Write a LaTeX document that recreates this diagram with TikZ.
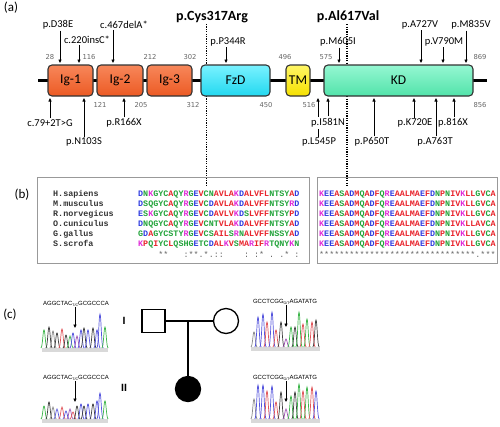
\documentclass[tikz,border=0pt]{standalone}
\usepackage{fontspec}
\setmainfont{Carlito}
\newfontfamily\numfont{DejaVu Sans}
\newfontfamily\alnfont{Liberation Mono}
\newfontfamily\chfont{Liberation Sans}
\usetikzlibrary{arrows.meta}
\definecolor{aared}{HTML}{E8232B}
\definecolor{aablue}{HTML}{2E3BE0}
\definecolor{aamag}{HTML}{E02CD8}
\definecolor{aagreen}{HTML}{22A33A}
\definecolor{chg}{HTML}{3DB54A}
\definecolor{chb}{HTML}{5555DD}
\definecolor{chr}{HTML}{E0555A}
\definecolor{chk}{HTML}{404040}
\definecolor{chp}{HTML}{9A4FB0}
\definecolor{chy}{HTML}{8A8A8A}
\definecolor{igtop}{HTML}{F7875A}
\definecolor{igbot}{HTML}{EC5A24}
\definecolor{fztop}{HTML}{7AF2FF}
\definecolor{fzbot}{HTML}{22D8F0}
\definecolor{tmtop}{HTML}{FFF666}
\definecolor{tmbot}{HTML}{F5E000}
\definecolor{kdtop}{HTML}{95F7D2}
\definecolor{kdbot}{HTML}{52E3AA}
\def\aaA{aared}\def\aaV{aared}\def\aaF{aared}\def\aaP{aared}\def\aaM{aared}\def\aaI{aared}\def\aaL{aared}\def\aaW{aared}
\def\aaD{aablue}\def\aaE{aablue}
\def\aaR{aamag}\def\aaK{aamag}
\def\aaS{aagreen}\def\aaT{aagreen}\def\aaY{aagreen}\def\aaH{aagreen}\def\aaC{aagreen}\def\aaN{aagreen}\def\aaG{aagreen}\def\aaQ{aagreen}
\def\seqcol#1{\seqcolx#1\relax}
\def\seqcolx#1{\ifx\relax#1\else\textcolor{\csname aa#1\endcsname}{#1}\expandafter\seqcolx\fi}
\newcommand\gp{\hphantom{*}}
\tikzset{
  dom/.style={draw=black!80, line width=1.1pt, rounded corners=4pt, minimum height=31pt, inner sep=0pt, font=\fontsize{13.5}{14}\selectfont},
  igbox/.style={dom, top color=igtop, bottom color=igbot},
  fzbox/.style={dom, top color=fztop, bottom color=fzbot},
  tmbox/.style={dom, top color=tmtop, bottom color=tmbot},
  kdbox/.style={dom, top color=kdtop, bottom color=kdbot},
  mut/.style={font=\fontsize{10.5}{12}\selectfont, inner sep=1pt},
  num/.style={font=\numfont\fontsize{6.8}{8}\selectfont, text=black!60, inner sep=0pt},
  arr/.style={-{Triangle[length=3.5pt,width=3pt]}, line width=0.75pt},
  dotline/.style={line width=1.9pt, dash pattern=on 1.2pt off 1.2pt},
  title/.style={font=\bfseries\fontsize{14}{15}\selectfont, inner sep=1pt},
  panel/.style={font=\fontsize{13}{14}\selectfont, inner sep=0pt},
  alnbox/.style={draw=black!40, line width=0.8pt},
  spname/.style={font=\alnfont\bfseries\fontsize{8.4}{9}\selectfont, text=black!80, anchor=base west, inner sep=0pt},
  seqtxt/.style={font=\alnfont\bfseries\fontsize{8.4}{9}\selectfont, anchor=base west, inner sep=0pt},
  constxt/.style={font=\alnfont\fontsize{8.4}{9}\selectfont, text=black!60, anchor=base west, inner sep=0pt},
  chlab/.style={font=\chfont\fontsize{6}{7}\selectfont, inner sep=0.5pt},
  ped/.style={draw=black, line width=1.3pt},
  gen/.style={font=\chfont\bfseries\fontsize{10.5}{12}\selectfont, inner sep=0pt},
  pk/.style={line width=0.7pt}
}
\begin{document}
\begin{tikzpicture}[x=1pt,y=-1pt]
\useasboundingbox (0,0) rectangle (500,426);
% ---------- panel (a)
\node[panel] (pa) at (11,8) {(a)};
\node[title] (cys) at (212,17) {p.Cys317Arg};
\node[title] (ala) at (348,17) {p.Al617Val};
\coordinate (cysx) at (206.5,187);
\coordinate (alax) at (346.7,187);
\draw[dotline] (cys.south -| cysx) -- (cysx);
\draw[dotline] (ala.south -| alax) -- (alax);
\coordinate (bbL) at (38,80.5);
\coordinate (bbR) at (487,80.5);
\draw[line width=2.6pt] (bbL) -- (bbR);
\node[igbox, minimum width=45pt] (ig1) at (70.5,80.5) {Ig-1};
\node[igbox, minimum width=46pt] (ig2) at (120,80.5) {Ig-2};
\node[igbox, minimum width=45pt] (ig3) at (169.5,80.5) {Ig-3};
\node[fzbox, minimum width=69pt] (fzd) at (235.5,80.5) {FzD};
\node[tmbox, minimum width=24pt] (tm) at (298,80.5) {TM};
\node[kdbox, minimum width=149pt] (kd) at (398.5,80.5) {KD};
% numbers
\node[num] (n28) at (50,57) {28};
\node[num] (n116) at (89,57) {116};
\node[num] (n212) at (150,57) {212};
\node[num] (n302) at (190,57) {302};
\node[num] (n496) at (285,57) {496};
\node[num] (n575) at (326,57) {575};
\node[num] (n869) at (480,57) {869};
\node[num] (n121) at (100,105) {121};
\node[num] (n205) at (141,105) {205};
\node[num] (n312) at (193,105) {312};
\node[num] (n450) at (266,105) {450};
\node[num] (n516) at (309,105) {516};
\node[num] (n856) at (480,105) {856};
% top mutations
\node[mut] (mD38E) at (58,25) {p.D38E};
\node[mut] (m220) at (87,40) {c.220insC*};
\node[mut] (m467) at (124,25) {c.467delA*};
\node[mut] (mP344R) at (228,42) {p.P344R};
\node[mut] (mM605I) at (338,42) {p.M605I};
\node[mut] (mA727V) at (420,25) {p.A727V};
\node[mut] (mV790M) at (444,42) {p.V790M};
\node[mut] (mM835V) at (471,25) {p.M835V};
\coordinate (tD38E) at (60,63);
\coordinate (t220) at (79,63);
\coordinate (t467) at (113,63);
\coordinate (tP344R) at (226,63);
\coordinate (tM605I) at (339,63);
\coordinate (tA727V) at (421,63);
\coordinate (tV790M) at (443,63);
\coordinate (tM835V) at (466,63);
\draw[arr] (mD38E.south -| tD38E) -- (tD38E);
\draw[arr] (m220.south -| t220) -- (t220);
\draw[arr] (m467.south -| t467) -- (t467);
\draw[arr] (mP344R.south -| tP344R) -- (tP344R);
\draw[arr] (mM605I.south -| tM605I) -- (tM605I);
\draw[arr] (mA727V.south -| tA727V) -- (tA727V);
\draw[arr] (mV790M.south -| tV790M) -- (tV790M);
\draw[arr] (mM835V.south -| tM835V) -- (tM835V);
% bottom mutations
\coordinate (b79) at (50,98);
\coordinate (bN103S) at (84,98);
\coordinate (bR166X) at (124,98);
\coordinate (bL545P) at (318,98);
\coordinate (bI581N) at (328,98);
\coordinate (bP650T) at (374,98);
\coordinate (bK720E) at (414,98);
\coordinate (bA763T) at (436,98);
\coordinate (b816X) at (454,98);
\node[mut] (m79) at (50,123) {c.79+2T>G};
\node[mut] (mN103S) at (84,142) {p.N103S};
\node[mut] (mR166X) at (124,123) {p.R166X};
\node[mut] (mL545P) at (319,142) {p.L545P};
\draw[arr] (mL545P.north -| bL545P) -- (bL545P);
\node[mut, fill=white, inner ysep=2pt] (mI581N) at (328,123) {p.I581N};
\node[mut] (mP650T) at (372,142) {p.P650T};
\node[mut] (mK720E) at (415,123) {p.K720E};
\node[mut] (mA763T) at (435,142) {p.A763T};
\node[mut] (m816X) at (453,123) {p.816X};
\draw[arr] (m79.north -| b79) -- (b79);
\draw[arr] (mN103S.north -| bN103S) -- (bN103S);
\draw[arr] (mR166X.north -| bR166X) -- (bR166X);
\draw[arr] (mI581N.north -| bI581N) -- (bI581N);
\draw[arr] (mP650T.north -| bP650T) -- (bP650T);
\draw[arr] (mK720E.north -| bK720E) -- (bK720E);
\draw[arr] (mA763T.north -| bA763T) -- (bA763T);
\draw[arr] (m816X.north -| b816X) -- (b816X);
% ---------- panel (b)
\node[panel] (pb) at (22,195) {(b)};
\draw[alnbox] (37,177) rectangle (309,263);
\draw[alnbox] (317,177) rectangle (497,263);
\node[spname] (s1) at (53,196) {H.sapiens};
\node[spname] (s2) at (53,206) {M.musculus};
\node[spname] (s3) at (53,216) {R.norvegicus};
\node[spname] (s4) at (53,226) {O.cuniculus};
\node[spname] (s5) at (53,236) {G.gallus};
\node[spname] (s6) at (53,246) {S.scrofa};
\node[seqtxt] (q1) at (138,196) {\seqcol{DNKGYCAQYRGEVCNAVLAKDALVFLNTSYAD}};
\node[seqtxt] (q2) at (138,206) {\seqcol{DSQGYCAQYRGEVCDAVLAKDALVFFNTSYRD}};
\node[seqtxt] (q3) at (138,216) {\seqcol{ESKGYCAQYRGEVCDAVLVKDSLVFFNTSYPD}};
\node[seqtxt] (q4) at (138,226) {\seqcol{DNQGYCAQYRGEVCNTVLAKDALVFFNTSYAD}};
\node[seqtxt] (q5) at (138,236) {\seqcol{GDAGYCSTYRGEVCSAILSRNALVFFNSSYAD}};
\node[seqtxt] (q6) at (138,246) {\seqcol{KPQIYCLQSHGETCDALKVSMARIFRTQNYKN}};
\node[constxt] (c1) at (138,257) {\gp\gp\gp\gp**\gp\gp\gp:**.*.::\gp\gp\gp\gp:\gp:*\gp.\gp.*\gp:};
\node[seqtxt] (r1) at (319,196) {\seqcol{KEEASADMQADFQREAALMAEFDNPNIVKLLGVCA}};
\node[seqtxt] (r2) at (319,206) {\seqcol{KEEASADMQADFQREAALMAEFDNPNIVKLLGVCA}};
\node[seqtxt] (r3) at (319,216) {\seqcol{KEEASADMQADFQREAALMAEFDNPNIVKLLGVCA}};
\node[seqtxt] (r4) at (319,226) {\seqcol{KEEASADMQADFQREAALMAEFDNPNIVKLLAVCA}};
\node[seqtxt] (r5) at (319,236) {\seqcol{KEEASADMQADFQREAALMAEFDNPNIVKLLGVCA}};
\node[seqtxt] (r6) at (319,246) {\seqcol{KEEASADMQADFQREAALMAEFDNPNIVKLLGVCA}};
\node[constxt] (c2) at (319,257) {*******************************.***};
% ---------- panel (c)
\node[panel] (pc) at (10,315) {(c)};
% pedigree
\node[ped, minimum size=23pt, inner sep=0pt] (father) at (153.5,321) {};
\node[ped, circle, minimum size=25pt, inner sep=0pt] (mother) at (226,321) {};
\node[ped, circle, fill=black, minimum size=25pt, inner sep=0pt] (child) at (188,389) {};
\coordinate (mid) at (188,321);
\draw[ped] (father) -- (mother);
\draw[ped] (mid) -- (child);
\node[gen] (g1) at (124,321) {I};
\node[gen] (g2) at (124,388) {II};
% chromatogram labels and arrows
\node[chlab] (cl1) at (76,304) {AGGCTAC\raisebox{-0.8pt}{\fontsize{3.6}{4}\selectfont T/C}GCGCCCA};
\node[chlab] (cl2) at (76,378) {AGGCTAC\raisebox{-0.8pt}{\fontsize{3.6}{4}\selectfont T/C}GCGCCCA};
\node[chlab] (cr1) at (285,302) {GCCTCGG\raisebox{-0.8pt}{\fontsize{3.6}{4}\selectfont G/T}AGATATG};
\node[chlab] (cr2) at (285,378) {GCCTCGG\raisebox{-0.8pt}{\fontsize{3.6}{4}\selectfont G/T}AGATATG};
\coordinate (al1) at (75,328);
\coordinate (al2) at (75,402);
\coordinate (ar1) at (286,327);
\coordinate (ar2) at (286,402);
% gray bands
\fill[black!15] (42,348) rectangle (108,352);
\fill[black!15] (42,419) rectangle (108,423);
\fill[black!15] (251,347) rectangle (320,351);
\fill[black!15] (251,419) rectangle (320,423);
% peaks top-left
\foreach \x/\h/\c in {44/18/chg,49/21/chk,53/17/chy,57/15/chk,62/19/chr,66/13/chk,70/12/chg,73/15/chb,77/12/chp,81/18/chb,84/20/chk,88/18/chb,93/20/chk,97/18/chb,100/34/chb,105/21/chg}
  {\draw[\c,pk] (\x-3.2,348) .. controls (\x-1.4,348) and (\x-1.1,348-\h) .. (\x,348-\h) .. controls (\x+1.1,348-\h) and (\x+1.4,348) .. (\x+3.2,348);}
% peaks bottom-left
\foreach \x/\h/\c in {44/13/chg,49/17/chk,53/12/chy,57/10/chb,62/12/chr,66/8/chb,70/10/chp,73/7/chr,77/13/chk,81/15/chb,84/13/chk,88/15/chb,93/15/chk,97/18/chb,100/26/chb,105/18/chg}
  {\draw[\c,pk] (\x-3.2,419) .. controls (\x-1.4,419) and (\x-1.1,419-\h) .. (\x,419-\h) .. controls (\x+1.1,419-\h) and (\x+1.4,419) .. (\x+3.2,419);}
% peaks top-right
\foreach \x/\h/\c in {254/15/chy,258/30/chb,263/33/chb,267/25/chr,272/35/chb,276/17/chr,281/25/chk,286/8/chp,291/20/chg,295/20/chk,299/35/chg,303/23/chr,307/28/chg,312/25/chr,316/27/chk}
  {\draw[\c,pk] (\x-3.2,347) .. controls (\x-1.4,347) and (\x-1.1,347-\h) .. (\x,347-\h) .. controls (\x+1.1,347-\h) and (\x+1.4,347) .. (\x+3.2,347);}
% peaks bottom-right
\foreach \x/\h/\c in {254/20/chy,258/34/chb,263/34/chb,267/28/chr,272/33/chb,276/17/chr,281/27/chk,286/10/chp,291/23/chg,295/27/chk,299/35/chg,303/28/chr,307/32/chg,312/32/chr,316/28/chb}
  {\draw[\c,pk] (\x-3.2,419) .. controls (\x-1.4,419) and (\x-1.1,419-\h) .. (\x,419-\h) .. controls (\x+1.1,419-\h) and (\x+1.4,419) .. (\x+3.2,419);}
\draw[arr] (cl1.south -| al1) -- (al1);
\draw[arr] (cl2.south -| al2) -- (al2);
\draw[arr] (cr1.south -| ar1) -- (ar1);
\draw[arr] (cr2.south -| ar2) -- (ar2);
\end{tikzpicture}
\end{document}
